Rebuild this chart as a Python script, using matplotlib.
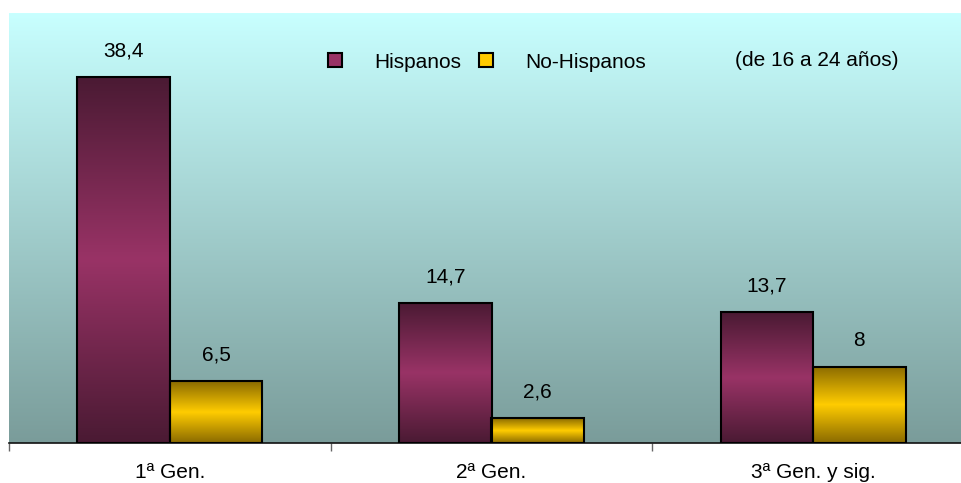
import numpy as np
import matplotlib.pyplot as plt
from matplotlib.colors import LinearSegmentedColormap
from matplotlib.lines import Line2D

plt.rcParams['font.family'] = ['Liberation Sans', 'DejaVu Sans']

# --- Data ---
categories = ["1ª Gen.", "2ª Gen.", "3ª Gen. y sig."]
hispanos = [38.4, 14.7, 13.7]
no_hispanos = [6.5, 2.6, 8]
hisp_labels = ["38,4", "14,7", "13,7"]
nohisp_labels = ["6,5", "2,6", "8"]

FS = 15
YMAX = 45.1

fig = plt.figure(figsize=(9.61, 4.83), dpi=100)
# plot area runs a bit past the right edge of the picture, as in the original
ax = fig.add_axes([9/961, 40/483, 965/961, 430/483])

# background gradient
bg = LinearSegmentedColormap.from_list("bg", ["#7a9c9a", "#c8ffff"])
ax.imshow(np.linspace(0, 1, 256).reshape(-1, 1), cmap=bg, origin="lower",
          extent=(-0.5, 2.5, 0, YMAX), aspect="auto", zorder=0)

maroon = LinearSegmentedColormap.from_list("m", ["#4a1a33", "#993366", "#4a1a33"])
gold = LinearSegmentedColormap.from_list("g", ["#8a6a00", "#ffcc00", "#8a6a00"])
grad = np.linspace(0, 1, 256).reshape(-1, 1)

w = 0.2876
x = np.arange(len(categories))

def gbar(xs, vals, cmap, offset):
    for xi, v in zip(xs, vals):
        x0 = xi + offset
        ax.imshow(grad, cmap=cmap, origin="lower", extent=(x0, x0 + w, 0, v),
                  aspect="auto", zorder=2)
        ax.bar(x0, v, w, align="edge", facecolor="none", edgecolor="black",
               linewidth=1.5, zorder=3)

gbar(x, hispanos, maroon, -w)
gbar(x, no_hispanos, gold, 0)

for xi, v, lab in zip(x, hispanos, hisp_labels):
    ax.text(xi - w / 2, v + 2.75, lab, ha="center", va="center", fontsize=FS)
for xi, v, lab in zip(x, no_hispanos, nohisp_labels):
    ax.text(xi + w / 2, v + 2.75, lab, ha="center", va="center", fontsize=FS)

ax.set_xlim(-0.5, 2.5)
ax.set_ylim(0, YMAX)

for s in ["top", "left", "right"]:
    ax.spines[s].set_visible(False)
ax.spines["bottom"].set_color("#111111")
ax.spines["bottom"].set_linewidth(1.2)
ax.set_yticks([])
ax.set_xticks([-0.5, 0.5, 1.5, 2.5])
ax.set_xticklabels([])
ax.tick_params(axis="x", direction="out", length=6, width=1, color="#666666")
for xi, c in zip(x, categories):
    ax.text(xi, -3.05, c, ha="center", va="center", fontsize=FS)

handles = [
    Line2D([], [], marker="s", ls="none", markersize=9.5, markerfacecolor="#993366",
           markeredgecolor="black", markeredgewidth=1.5),
    Line2D([], [], marker="s", ls="none", markersize=9.5, markerfacecolor="#ffcc00",
           markeredgecolor="black", markeredgewidth=1.5),
]
ax.legend(handles, ["Hispanos", "No-Hispanos"], ncol=2, frameon=False,
          loc="center left", bbox_to_anchor=(0.305, 0.886), fontsize=FS,
          handletextpad=1.3, columnspacing=0.6, handlelength=1.2)
fig.text(817/961, 1 - 61/483, "(de 16 a 24 años)", ha="center", va="center",
         fontsize=FS)

fig.savefig("out.png", dpi=100)
